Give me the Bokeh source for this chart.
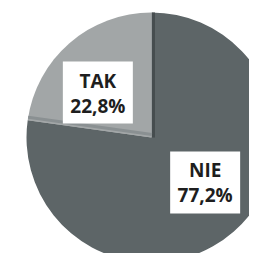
import math
from bokeh.plotting import figure
from bokeh.models import Range1d, ColumnDataSource
from bokeh.core.properties import value
from bokeh.embed import file_html
from bokeh.resources import INLINE

labels = ["TAK", "NIE"]
percents = [22.8, 77.2]
pct_text = ["22,8%", "77,2%"]
colors = ["#a2a6a7", "#5d6567"]

W, H = 249, 253
cx, cy, R = 151, 116, 125

p = figure(width=W, height=H, output_backend="svg", toolbar_location=None,
           x_range=Range1d(0, W), y_range=Range1d(0, H), min_border=0)
p.axis.visible = False
p.grid.visible = False
p.outline_line_color = None
p.background_fill_color = "white"

starts, ends, mids = [], [], []
a = math.pi / 2
for v in percents:
    s = a
    e = a + v / 100 * 2 * math.pi
    starts.append(s)
    ends.append(e)
    mids.append((s + e) / 2)
    a = e

src = ColumnDataSource(dict(start=starts, end=ends, color=colors))
p.wedge(x=cx, y=cy, radius=R, start_angle="start", end_angle="end",
        fill_color="color", line_color=None, source=src)

# bevel: dark edge at the vertical divider, light ridge at the other
a0 = starts[0]
p.line([cx + 2, cx + 2 + R * math.cos(a0)], [cy, cy + R * math.sin(a0)],
       line_color="#464d4f", line_width=3)
a1 = ends[0]
dx, dy = math.sin(a1) * 3, -math.cos(a1) * 3
p.line([cx + dx, cx + dx + R * math.cos(a1)], [cy + dy, cy + dy + R * math.sin(a1)],
       line_color="#8a9092", line_width=3)

lr = 70
off = math.radians(9)
lx = [cx + lr * math.cos(m + off) for m in mids]
ly = [cy + lr * math.sin(m + off) for m in mids]
p.rect(x=lx, y=ly, width=70, height=62, fill_color="white", line_color=None)
p.text(x=lx, y=[y + 12 for y in ly], text=labels, text_font=value("Open Sans"),
       text_font_style="bold", text_font_size="19px", text_align="center",
       text_baseline="middle", text_color="#1e1e1e")
p.text(x=lx, y=[y - 13 for y in ly], text=pct_text, text_font=value("Open Sans"),
       text_font_style="bold", text_font_size="19px", text_align="center",
       text_baseline="middle", text_color="#1e1e1e")

open("out.html", "w").write(file_html(p, INLINE))
